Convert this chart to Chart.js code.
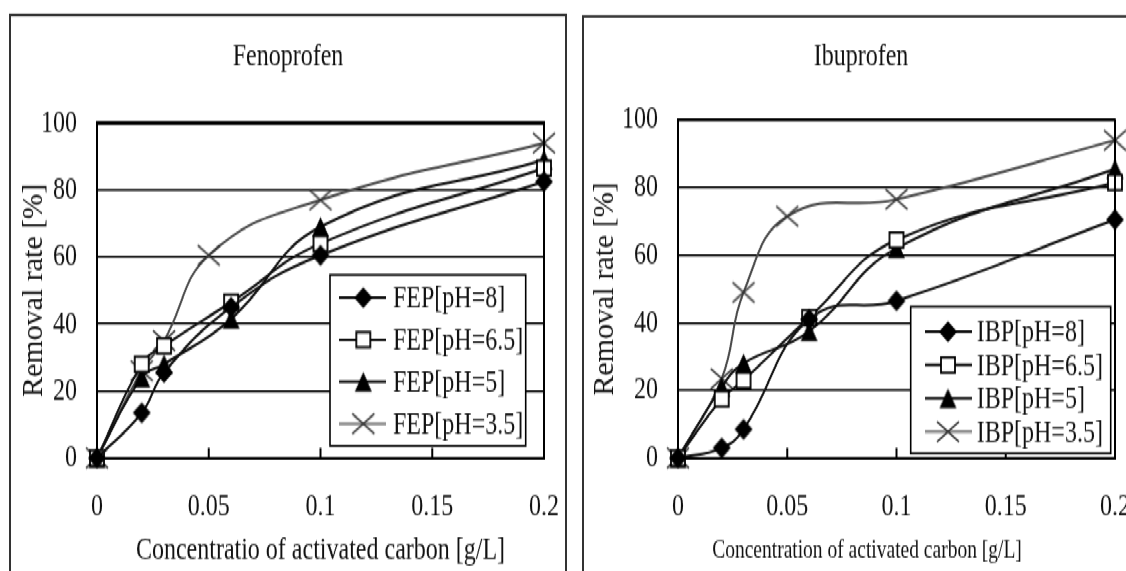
<!DOCTYPE html>
<html>
<head>
<meta charset="utf-8">
<script src="https://cdn.jsdelivr.net/npm/chart.js@4.4.1/dist/chart.umd.min.js"></script>
<style>
  html, body { margin: 0; padding: 0; background: #fff; width: 1126px; height: 571px; overflow: hidden; }
  /* the source figure is squeezed horizontally, so draw flat and stretch vertically */
  #wrap { position: absolute; left: 0; top: 0; width: 1160px; height: 420px; transform: scaleY(1.36); transform-origin: 0 0; }
  .box { position: absolute; border: 2px solid #333; box-sizing: border-box; background: #fff; }
  #boxL { left: 9px; top: 10.3px; width: 558px; height: 420px; }
  #boxR { left: 582px; top: 11px; width: 560px; height: 420px; }
  canvas { position: absolute; }
  #chartL { left: 11px; top: 12px; }
  #chartR { left: 584px; top: 13px; }
</style>
</head>
<body>
<div id="wrap">
  <div class="box" id="boxL"></div>
  <div class="box" id="boxR"></div>
  <canvas id="chartL" width="554" height="420"></canvas>
  <canvas id="chartR" width="554" height="420"></canvas>
</div>
<script>
// ===== data =====
const xTicks = [0, 0.05, 0.1, 0.15, 0.2];
const xTickLabels = ["0", "0.05", "0.1", "0.15", "0.2"];
const yTicks = [0, 20, 40, 60, 80, 100];

const concMain = [0, 0.02, 0.03, 0.06, 0.1, 0.2];   // pH 8 / 6.5 / 5
const concLow = [0, 0.02, 0.03, 0.05, 0.1, 0.2];    // pH 3.5

const fepLabels = ["FEP[pH=8]", "FEP[pH=6.5]", "FEP[pH=5]", "FEP[pH=3.5]"];
const fepPH8 = [0, 13.5, 25.5, 45, 60.5, 82.5];
const fepPH65 = [0, 28, 33.5, 46.5, 64, 86.5];
const fepPH5 = [0, 24, 28, 41.5, 69, 89];
const fepPH35 = [0, 26, 35, 60.5, 77, 94];

const ibpLabels = ["IBP[pH=8]", "IBP[pH=6.5]", "IBP[pH=5]", "IBP[pH=3.5]"];
const ibpPH8 = [0, 3, 8.5, 41, 46.5, 70.5];
const ibpPH65 = [0, 17.5, 23, 41.5, 64.5, 81.5];
const ibpPH5 = [0, 21, 28, 37.5, 62, 85.5];
const ibpPH35 = [0, 23.5, 49, 71.5, 76.5, 94];

// ===== style =====
const S = 1.36;
const FONT = "'Liberation Serif', 'Times New Roman', serif";
const INK = "#111";
const lineColors = ["#111", "#111", "#111", "#4a4a4a"];

// markers are drawn flat (height / S) so they come out right after the stretch
function makeMarker(kind, w, h) {
  const hu = h / S;
  const c = document.createElement("canvas");
  c.width = Math.ceil(w + 4);
  c.height = Math.ceil(hu + 4);
  const g = c.getContext("2d");
  const cx = c.width / 2, cy = c.height / 2;
  g.beginPath();
  if (kind === "diamond") {
    g.moveTo(cx, cy - hu / 2); g.lineTo(cx + w / 2, cy); g.lineTo(cx, cy + hu / 2); g.lineTo(cx - w / 2, cy);
    g.closePath(); g.fillStyle = "#000"; g.fill();
  } else if (kind === "square") {
    g.rect(cx - w / 2 + 1, cy - hu / 2 + 0.7, w - 2, hu - 1.4);
    g.fillStyle = "#fff"; g.fill();
    g.lineWidth = 1.8; g.strokeStyle = "#000"; g.stroke();
  } else if (kind === "triangle") {
    g.moveTo(cx, cy - hu / 2); g.lineTo(cx + w / 2, cy + hu / 2); g.lineTo(cx - w / 2, cy + hu / 2);
    g.closePath(); g.fillStyle = "#000"; g.fill();
  } else {
    g.moveTo(cx - w / 2, cy - hu / 2); g.lineTo(cx + w / 2, cy + hu / 2);
    g.moveTo(cx + w / 2, cy - hu / 2); g.lineTo(cx - w / 2, cy + hu / 2);
    g.lineWidth = 1.6; g.strokeStyle = "#333"; g.stroke();
  }
  return c;
}

const markers = [
  makeMarker("diamond", 18, 21),
  makeMarker("square", 16, 17),
  makeMarker("triangle", 17, 20),
  makeMarker("cross", 22, 20)
];

// ===== frame, inner ticks, legend, axis titles =====
const panelPlugin = {
  id: "panel",
  afterDraw(chart, args, o) {
    const ctx = chart.ctx;
    const a = chart.chartArea;
    const xs = chart.scales.x;
    ctx.save();
    ctx.strokeStyle = "#000";

    // top / right edge of the plot box
    ctx.lineWidth = o.topWidth;
    ctx.beginPath(); ctx.moveTo(a.left - 1, a.top); ctx.lineTo(a.right + 1, a.top); ctx.stroke();
    ctx.lineWidth = 2;
    ctx.beginPath(); ctx.moveTo(a.right, a.top); ctx.lineTo(a.right, a.bottom); ctx.stroke();

    // tick marks pointing inwards
    xTicks.forEach(v => {
      const px = xs.getPixelForValue(v);
      ctx.beginPath(); ctx.moveTo(px, a.bottom); ctx.lineTo(px, a.bottom - 7.4); ctx.stroke();
    });

    // legend
    const L = o.legend;
    const bx = a.right - L.right - L.w;
    const by = a.bottom - L.bottom - L.h;
    ctx.fillStyle = "#fff";
    ctx.fillRect(bx, by, L.w, L.h);
    ctx.lineWidth = 1.6;
    ctx.strokeRect(bx, by, L.w, L.h);
    ctx.font = "24px " + FONT;
    ctx.textBaseline = "middle";
    ctx.textAlign = "left";
    chart.data.datasets.forEach((ds, i) => {
      const ry = by + L.first + i * L.row;
      ctx.strokeStyle = i === 3 ? "#888" : "#000";
      ctx.lineWidth = i === 3 ? 2.4 : 1.8;
      ctx.beginPath(); ctx.moveTo(bx + L.line0, ry); ctx.lineTo(bx + L.line1, ry); ctx.stroke();
      Chart.helpers.drawPoint(ctx, { pointStyle: ds.pointStyle, radius: 6, rotation: 0 }, bx + L.mark, ry);
      ctx.fillStyle = INK;
      ctx.fillText(ds.label, bx + L.text, ry + 1);
    });

    // x title
    ctx.font = o.xTitleSize + "px " + FONT;
    ctx.textAlign = "center";
    ctx.fillText(o.xTitle, (a.left + a.right) / 2 + o.xTitleDx, a.bottom + o.xTitleDy);

    // rotated y title, undoing the vertical stretch
    ctx.translate(o.yTitleX, (a.top + a.bottom) / 2);
    ctx.scale(1, 1 / S);
    ctx.rotate(-Math.PI / 2);
    ctx.font = "30px " + FONT;
    ctx.fillText("Removal rate [%]", 0, 0);
    ctx.restore();
  }
};

// ===== chart =====
function buildChart(id, p) {
  const datasets = p.series.map((vals, i) => ({
    label: p.labels[i],
    data: (i === 3 ? concLow : concMain).map((x, k) => ({ x, y: vals[k] })),
    borderColor: lineColors[i],
    borderWidth: 2,
    tension: 0.45,
    pointStyle: markers[i],
    pointRadius: 6,
    clip: false
  }));

  const tickFont = { family: FONT, size: 24 };

  return new Chart(document.getElementById(id), {
    type: "line",
    data: { datasets },
    options: {
      responsive: false,
      animation: false,
      devicePixelRatio: 1,
      layout: { padding: 0 },
      scales: {
        x: {
          type: "linear", min: 0, max: 0.2,
          afterBuildTicks: s => { s.ticks = xTicks.map(v => ({ value: v })); },
          ticks: { callback: (v, i) => xTickLabels[i], padding: 0, font: tickFont, color: INK, maxRotation: 0 },
          // invisible tick marks only push the labels down
          grid: { display: true, drawOnChartArea: false, drawTicks: true, tickLength: 21.6, color: "rgba(0,0,0,0)" },
          border: { color: "#000", width: 2 },
          afterFit: s => { s.height = p.xHeight; }
        },
        y: {
          min: 0, max: 100,
          afterBuildTicks: s => { s.ticks = yTicks.map(v => ({ value: v })); },
          ticks: { padding: 20, font: tickFont, color: INK },
          grid: { color: "#000", lineWidth: 1.5, drawTicks: false },
          border: { color: "#000", width: 2 },
          afterFit: s => { s.width = p.yWidth; }
        },
        pad: {
          type: "linear", position: "right", display: true,
          grid: { display: false }, ticks: { display: false }, border: { display: false },
          afterFit: s => { s.width = p.rightPad; }
        }
      },
      plugins: {
        legend: { display: false },
        tooltip: { enabled: false },
        title: {
          display: true, text: p.title, color: INK,
          font: { family: FONT, size: 24, weight: "normal" },
          padding: { top: p.titleTop, bottom: p.titleBottom }
        },
        panel: {
          topWidth: p.topWidth, yTitleX: p.yTitleX, legend: p.legend,
          xTitle: p.xTitle, xTitleSize: p.xTitleSize, xTitleDx: p.xTitleDx, xTitleDy: 68.3
        }
      }
    },
    plugins: [panelPlugin]
  });
}

buildChart("chartL", {
  title: "Fenoprofen",
  xTitle: "Concentratio of activated carbon [g/L]",
  labels: fepLabels,
  series: [fepPH8, fepPH65, fepPH5, fepPH35],
  yWidth: 86, rightPad: 21,
  titleTop: 15.5, titleBottom: 34.1,
  xHeight: 95.2, xTitleSize: 24, xTitleDx: 0,
  topWidth: 3, yTitleX: 23,
  legend: { right: 18.3, bottom: 8.9, w: 195.7, h: 125.7, first: 16.7, row: 30.9, line0: 9, line1: 56, mark: 33.3, text: 63 }
});

buildChart("chartR", {
  title: "Ibuprofen",
  xTitle: "Concentration of activated carbon [g/L]",
  labels: ibpLabels,
  series: [ibpPH8, ibpPH65, ibpPH5, ibpPH35],
  yWidth: 94, rightPad: 23,
  titleTop: 14.5, titleBottom: 31.9,
  xHeight: 96.2, xTitleSize: 19.5, xTitleDx: -29.5,
  topWidth: 2, yTitleX: 21,
  legend: { right: 4.3, bottom: 3.5, w: 200, h: 107.8, first: 18.4, row: 24.5, line0: 14.3, line1: 61.3, mark: 37.3, text: 66 }
});
</script>
</body>
</html>
